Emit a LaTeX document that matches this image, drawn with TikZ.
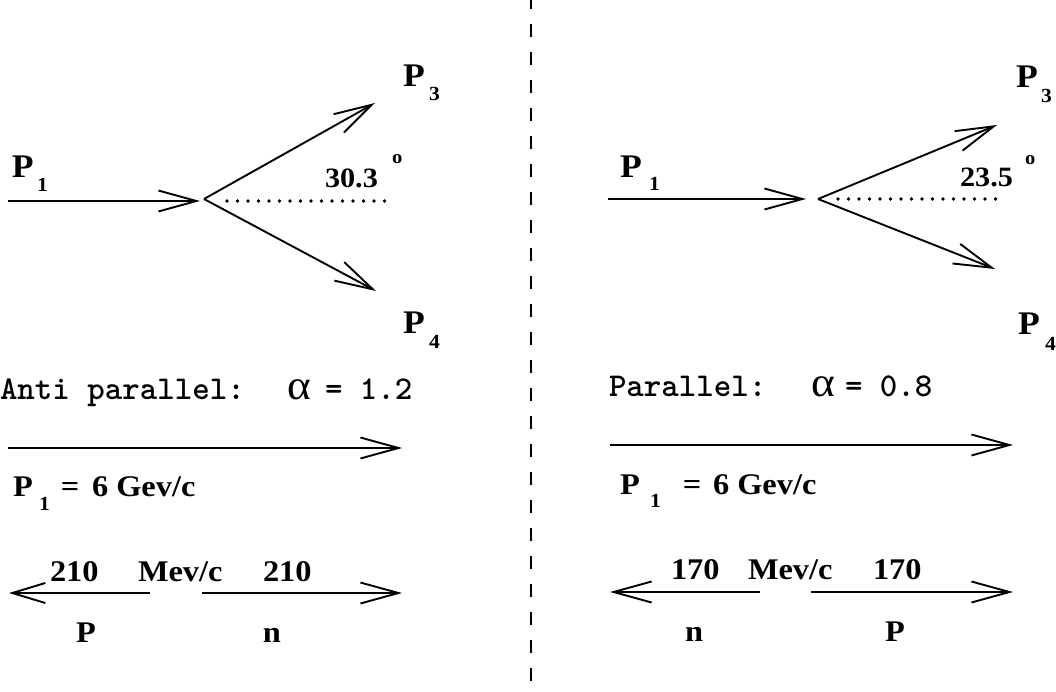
\documentclass[tikz,border=0pt]{standalone}
\usepackage{fontspec}
\usetikzlibrary{arrows.meta}
\newfontfamily\labfont[FakeStretch=1.08]{Liberation Serif}
\tikzset{
  arr/.style={line width=1.9pt, -{Straight Barb[length=38pt,width=21pt]}},
  sarr/.style={line width=1.9pt, -{Straight Barb[length=33pt,width=20pt]}},
  dotline/.style={line width=3.8pt, line cap=round, dash pattern=on 0pt off 10.5pt},
  divider/.style={line width=2.4pt, dash pattern=on 13pt off 15pt},
  txt/.style={inner sep=0pt, outer sep=0pt, anchor=base west},
  bigP/.style={txt, font=\labfont\bfseries\fontsize{33}{33}\selectfont},
  subn/.style={txt, font=\labfont\bfseries\fontsize{20}{20}\selectfont},
  ang/.style={txt, font=\labfont\bfseries\fontsize{28}{28}\selectfont},
  degr/.style={txt, font=\labfont\bfseries\fontsize{19}{19}\selectfont},
  val/.style={txt, font=\labfont\bfseries\fontsize{30}{30}\selectfont},
  midval/.style={val, anchor=base},
  tt/.style={txt, font=\ttfamily\bfseries\fontsize{33.3}{33.3}\selectfont},
  alph/.style={txt, font=\labfont\fontsize{42}{42}\selectfont},
}
\begin{document}
\begin{tikzpicture}[x=1pt,y=-1pt]
\useasboundingbox (0,0) rectangle (1056,692);

% divider
\coordinate (dvT) at (531,-4);
\coordinate (dvB) at (531,696);
\draw[divider] (dvT) -- (dvB);

% ---------------- left: anti parallel ----------------
\coordinate (LinA) at (8,201);
\coordinate (LinB) at (200,201);
\coordinate (LJ) at (204,199);
\coordinate (LP3t) at (375,103);
\coordinate (LP4t) at (376,291);
\coordinate (LdotA) at (227,201);
\coordinate (LdotB) at (385,201);
\draw[arr] (LinA) -- (LinB);
\draw[arr] (LJ) -- (LP3t);
\draw[arr] (LJ) -- (LP4t);
\draw[dotline] (LdotA) -- (LdotB);

\node[bigP] (LP1) at (12,178) {P};
\node[subn] (LP1s) at (37,192) {1};
\node[ang] (Lang) at (325,188) {30.3};
\node[degr] (Ldeg) at (392,164) {o};
\node[bigP] (LP3) at (403,87) {P};
\node[subn] (LP3s) at (429,101) {3};
\node[bigP] (LP4) at (403,333) {P};
\node[subn] (LP4s) at (429,348) {4};

\node[tt] (Ltitle) at (0,399) {Anti parallel:};
\node[alph] (Lalpha) at (287,399) {α};
\node[tt] (Lval) at (325,399) {= 1.2};

\coordinate (LbeamA) at (8,448);
\coordinate (LbeamB) at (402,448);
\draw[arr] (LbeamA) -- (LbeamB);

\node[val] (LbP) at (13,496) {P};
\node[subn] (LbPs) at (39,510) {1};
\node[midval] (Lbeq) at (70,496) {=};
\node[val] (Lbmom) at (92,496) {6 Gev/c};

\node[val] (Lm1) at (50,581) {210};
\node[val] (Lmu) at (138,581) {Mev/c};
\node[val] (Lm2) at (263,581) {210};
\coordinate (LlA) at (150,593);
\coordinate (LlB) at (9,593);
\coordinate (LrA) at (202,593);
\coordinate (LrB) at (402,593);
\draw[sarr] (LlA) -- (LlB);
\draw[arr] (LrA) -- (LrB);
\node[midval] (Lpp) at (86,642) {P};
\node[midval] (Lnn) at (272,642) {n};

% ---------------- right: parallel ----------------
\coordinate (RinA) at (608,199);
\coordinate (RinB) at (806,199);
\coordinate (RJ) at (818,199);
\coordinate (RP3t) at (997,125);
\coordinate (RP4t) at (995,269);
\coordinate (RdotA) at (838,199);
\coordinate (RdotB) at (996,199);
\draw[arr] (RinA) -- (RinB);
\draw[arr] (RJ) -- (RP3t);
\draw[arr] (RJ) -- (RP4t);
\draw[dotline] (RdotA) -- (RdotB);

\node[bigP] (RP1) at (620,178) {P};
\node[subn] (RP1s) at (649,191) {1};
\node[ang] (Rang) at (960,187) {23.5};
\node[degr] (Rdeg) at (1025,165) {o};
\node[bigP] (RP3) at (1016,88) {P};
\node[subn] (RP3s) at (1041,103) {3};
\node[bigP] (RP4) at (1018,334) {P};
\node[subn] (RP4s) at (1045,350) {4};

\node[tt] (Rtitle) at (609,396) {Parallel:};
\node[alph] (Ralpha) at (811,396) {α};
\node[tt] (Rval) at (845,396) {= 0.8};

\coordinate (RbeamA) at (610,445);
\coordinate (RbeamB) at (1013,445);
\draw[arr] (RbeamA) -- (RbeamB);

\node[val] (RbP) at (620,494) {P};
\node[subn] (RbPs) at (650,507) {1};
\node[midval] (Rbeq) at (692,494) {=};
\node[val] (Rbmom) at (713,494) {6 Gev/c};

\node[val] (Rm1) at (671,579) {170};
\node[val] (Rmu) at (748,579) {Mev/c};
\node[val] (Rm2) at (873,579) {170};
\coordinate (RlA) at (760,592);
\coordinate (RlB) at (610,592);
\coordinate (RrA) at (811,592);
\coordinate (RrB) at (1013,592);
\draw[arr] (RlA) -- (RlB);
\draw[arr] (RrA) -- (RrB);
\node[midval] (Rnn) at (694,641) {n};
\node[midval] (Rpp) at (895,641) {P};
\end{tikzpicture}
\end{document}
